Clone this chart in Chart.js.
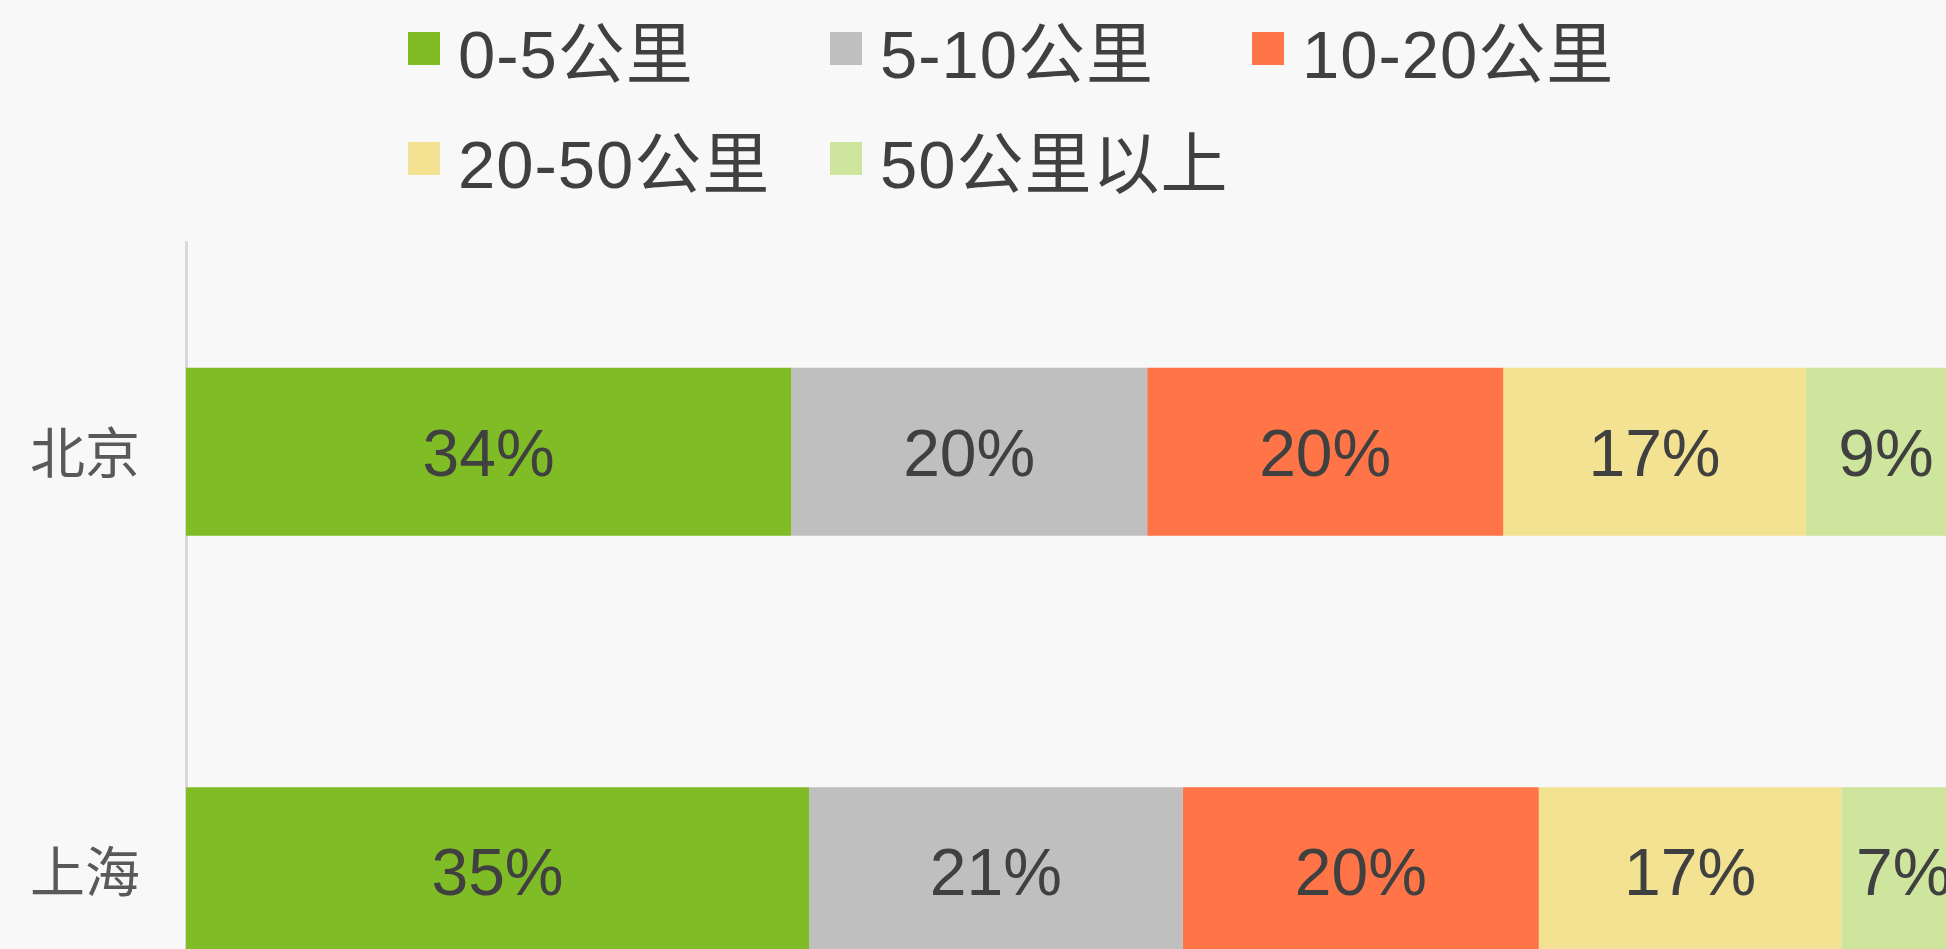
<!DOCTYPE html>
<html>
<head>
<meta charset="utf-8">
<script src="https://cdn.jsdelivr.net/npm/chart.js@4.4.1/dist/chart.umd.min.js"></script>
<style>
    html, body { margin: 0; padding: 0; background: #f8f8f8; overflow: hidden; width: 1946px; height: 949px; }
    #distance-chart { position: absolute; left: 0; top: 0; }
    #legend { position: absolute; left: 408px; top: -7px; width: 1400px; display: flex; flex-wrap: wrap;
              font-family: "Liberation Sans", "Noto Sans CJK SC", sans-serif; font-size: 67px; color: #404040;
              letter-spacing: 1px; }
    .item { width: 422px; height: 110px; display: flex; align-items: center; white-space: nowrap; }
    .box { width: 32px; height: 33px; margin-right: 18px; flex: none; }
</style>
</head>
<body>
<canvas id="distance-chart" width="2000" height="1160"></canvas>
<div id="legend"></div>
<script>
// distance bands and share of orders per city (%)
const cities = ['北京', '上海'];
const bands = ['0-5公里', '5-10公里', '10-20公里', '20-50公里', '50公里以上'];
const beijingShares = [34, 20, 20, 17, 9];
const shanghaiShares = [35, 21, 20, 17, 7];
const bandColors = ['#80bc26', '#bfbfbf', '#ff7548', '#f2e291', '#cde59d'];

document.addEventListener('DOMContentLoaded', () => {
    // legend laid out as a fixed grid like the original
    const legend = document.getElementById('legend');
    bands.forEach((band, i) => {
        const item = document.createElement('div');
        item.className = 'item';
        const box = document.createElement('span');
        box.className = 'box';
        box.style.background = bandColors[i];
        item.appendChild(box);
        item.appendChild(document.createTextNode(band));
        legend.appendChild(item);
    });

    // percent labels centred in each segment
    const segmentLabels = {
        id: 'segmentLabels',
        afterDatasetsDraw(chart) {
            const ctx = chart.ctx;
            ctx.save();
            ctx.font = '66px "Liberation Sans", Arial, sans-serif';
            ctx.fillStyle = '#404040';
            ctx.textAlign = 'center';
            ctx.textBaseline = 'alphabetic';
            chart.data.datasets.forEach((ds, i) => {
                chart.getDatasetMeta(i).data.forEach((bar, j) => {
                    const cx = (bar.x + bar.base) / 2;
                    ctx.fillText(ds.data[j] + '%', cx, bar.y + 24);
                });
            });
            ctx.restore();
        }
    };

    const ctx = document.getElementById('distance-chart').getContext('2d');
    new Chart(ctx, {
        type: 'bar',
        data: {
            labels: cities,
            datasets: bands.map((band, i) => ({
                label: band,
                data: [beijingShares[i], shanghaiShares[i]],
                backgroundColor: bandColors[i],
                borderWidth: 0,
                barPercentage: 0.5,
                categoryPercentage: 0.8
            }))
        },
        options: {
            indexAxis: 'y',
            responsive: false,
            animation: false,
            layout: { padding: { top: 242, right: 34, bottom: 20, left: 0 } },
            plugins: {
                legend: { display: false },
                tooltip: { enabled: false }
            },
            scales: {
                x: {
                    stacked: true,
                    display: false,
                    min: 0,
                    max: 100
                },
                y: {
                    stacked: true,
                    afterFit: (axis) => { axis.width = 186; },
                    grid: { display: false, drawTicks: false },
                    border: { display: true, color: '#d9d9d9', width: 3 },
                    ticks: {
                        padding: 46,
                        color: '#595959',
                        font: { family: '"Noto Sans CJK SC", sans-serif', size: 55 }
                    }
                }
            }
        },
        plugins: [segmentLabels]
    });
});
</script>
</body>
</html>
